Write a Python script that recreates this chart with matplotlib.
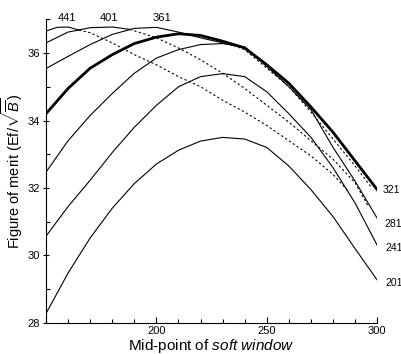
import matplotlib
matplotlib.use("Agg")
import matplotlib.pyplot as plt
from matplotlib.ticker import MultipleLocator, FixedLocator

plt.rcParams['font.family'] = ['Liberation Sans', 'DejaVu Sans']
plt.rcParams['mathtext.fontset'] = 'custom'
plt.rcParams['mathtext.rm'] = 'Liberation Sans'
plt.rcParams['mathtext.it'] = 'Liberation Sans:italic'

# ---- data ----
x_full = [150, 160, 170, 180, 190, 200, 210, 220, 230, 240, 250, 260, 270, 280, 290, 300]
y_201 = [28.28, 29.48, 30.52, 31.40, 32.13, 32.71, 33.12, 33.39, 33.50, 33.45, 33.20, 32.65, 31.95, 31.15, 30.20, 29.27]
y_241 = [30.57, 31.45, 32.23, 33.05, 33.80, 34.45, 35.00, 35.30, 35.39, 35.30, 34.85, 34.20, 33.50, 32.60, 31.55, 30.30]
y_281 = [32.47, 33.40, 34.15, 34.80, 35.40, 35.85, 36.10, 36.25, 36.28, 36.18, 35.60, 35.00, 34.32, 33.20, 32.20, 31.10]
y_321 = [34.20, 34.95, 35.55, 35.95, 36.28, 36.47, 36.57, 36.52, 36.35, 36.15, 35.65, 35.10, 34.40, 33.65, 32.80, 31.95]

x_361_solid = [150, 160, 170, 180, 190, 200, 210, 220, 230, 235]
y_361_solid = [35.54, 35.90, 36.25, 36.55, 36.73, 36.76, 36.62, 36.45, 36.30, 36.22]
x_361_dash = [235, 240, 250, 260, 270, 280, 290, 297]
y_361_dash = [36.22, 36.10, 35.55, 35.00, 34.25, 33.45, 32.65, 32.05]

x_401_solid = [150, 160, 170, 180, 188]
y_401_solid = [36.30, 36.62, 36.75, 36.77, 36.70]
x_401_dash = [188, 200, 210, 220, 230, 240, 250, 260, 270, 280, 290, 296]
y_401_dash = [36.70, 36.45, 36.15, 35.80, 35.40, 34.95, 34.45, 33.95, 33.40, 32.85, 32.15, 31.45]

x_441_solid = [150, 155, 160, 165]
y_441_solid = [36.65, 36.76, 36.77, 36.68]
x_441_dash = [165, 170, 180, 190, 200, 210, 220, 230, 240, 250, 260, 270, 280, 287]
y_441_dash = [36.68, 36.60, 36.30, 35.95, 35.65, 35.30, 35.00, 34.60, 34.25, 33.85, 33.40, 32.95, 32.40, 31.90]

right_labels = ['321', '281', '241', '201']
top_labels = ['441', '401', '361']

x_ticks_major = [200, 250, 300]
y_ticks_major = [28, 30, 32, 34, 36]

# ---- figure ----
fig = plt.figure(figsize=(4.02, 3.54), dpi=100)
ax = fig.add_axes([0.1144, 0.0876, 0.824, 0.858])

thin = dict(color='black', lw=0.8)
dash = dict(color='black', lw=0.8, ls=(0, (2.0, 2.2)))

ax.plot(x_full, y_201, **thin)
ax.plot(x_full, y_241, **thin)
ax.plot(x_full, y_281, **thin)
ax.plot(x_full, y_321, color='black', lw=2.0)

ax.plot(x_361_solid, y_361_solid, **thin)
ax.plot(x_361_dash, y_361_dash, **dash)
ax.plot(x_401_solid, y_401_solid, **thin)
ax.plot(x_401_dash, y_401_dash, **dash)
ax.plot(x_441_solid, y_441_solid, **thin)
ax.plot(x_441_dash, y_441_dash, **dash)

# right-end labels
right_pos = [(302.6, 31.93), (303.2, 30.92), (303.8, 30.21), (303.6, 29.18)]
for lab, (xx, yy) in zip(right_labels, right_pos):
    ax.text(xx, yy, lab, fontsize=7.5, ha='left', va='center', clip_on=False,
            family=['Liberation Sans Narrow', 'Liberation Sans', 'DejaVu Sans'])

# top labels
top_pos = [(159.5, 37.05), (178.5, 37.05), (202.5, 37.05)]
for lab, (xx, yy) in zip(top_labels, top_pos):
    ax.text(xx, yy, lab, fontsize=8, ha='center', va='center', clip_on=False)

ax.set_xlim(150, 300)
ax.set_ylim(28, 37.0)

for s in ['top', 'right']:
    ax.spines[s].set_visible(False)
for s in ['left', 'bottom']:
    ax.spines[s].set_linewidth(0.8)

ax.xaxis.set_major_locator(FixedLocator(x_ticks_major))
ax.xaxis.set_minor_locator(MultipleLocator(10))
ax.yaxis.set_major_locator(FixedLocator(y_ticks_major))
ax.yaxis.set_minor_locator(MultipleLocator(1))

ax.tick_params(axis='x', which='major', direction='in', length=4, width=0.8, labelsize=8, pad=2)
ax.tick_params(axis='x', which='minor', direction='in', length=3, width=0.8)
ax.tick_params(axis='y', which='major', direction='inout', length=5, width=0.8, labelsize=8, pad=2)
ax.tick_params(axis='y', which='minor', direction='in', length=3, width=0.8)

ax.set_xlabel('Mid-point of $\\it{soft\\ window}$', fontsize=11, labelpad=1)
ax.set_ylabel('Figure of merit (Ef/$\\sqrt{\\overline{B}}$)', fontsize=10.5)
ax.yaxis.set_label_coords(-0.062, 0.5)

fig.savefig('out.png', dpi=100)
